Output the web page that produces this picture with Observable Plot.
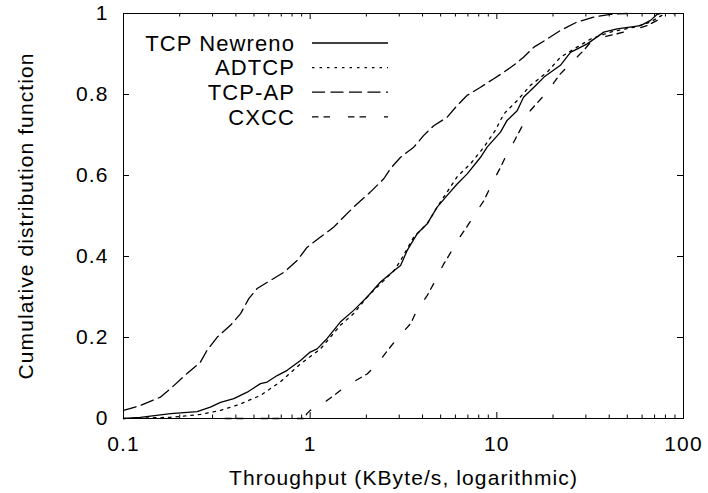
<!DOCTYPE html>
<html>
<head>
<meta charset="utf-8">
<script src="https://cdn.jsdelivr.net/npm/d3@7"></script>
<script src="https://cdn.jsdelivr.net/npm/@observablehq/plot@0.6"></script>
<style>
  html, body { margin: 0; padding: 0; background: #fff; }
</style>
</head>
<body>
<div id="chart"></div>
<script>
// ---- data ----
const seriesNames = ["TCP Newreno", "ADTCP", "TCP-AP", "CXCC"];

const newrenoX = [0.1, 0.123, 0.179, 0.248, 0.292, 0.331, 0.39, 0.46, 0.542, 0.588, 0.666, 0.753, 0.888, 1.0, 1.09, 1.23, 1.45, 1.71, 2.02, 2.38, 2.81, 3.05, 3.31, 3.74, 4.24, 4.79, 5.42, 6.13, 6.94, 8.18, 8.87, 10.46, 11.35, 12.85, 13.9, 15.8, 17.9, 21.9, 24.8, 30.5, 37.4, 44.1, 58.9, 66.6, 72.3, 75];
const newrenoY = [0, 0.003, 0.012, 0.017, 0.028, 0.04, 0.049, 0.065, 0.086, 0.09, 0.106, 0.119, 0.143, 0.164, 0.172, 0.197, 0.238, 0.267, 0.3, 0.337, 0.365, 0.378, 0.415, 0.456, 0.481, 0.522, 0.551, 0.579, 0.604, 0.645, 0.67, 0.707, 0.736, 0.76, 0.793, 0.818, 0.843, 0.872, 0.904, 0.925, 0.954, 0.962, 0.97, 0.983, 0.998, 1];

const adtcpX = [0.1, 0.179, 0.258, 0.331, 0.424, 0.542, 0.69, 0.888, 1.136, 1.45, 1.71, 2.02, 2.81, 3.05, 3.59, 4.24, 4.79, 5.2, 6.13, 7.23, 8.52, 9.8, 10.9, 12.85, 15.1, 18.6, 21.9, 26.9, 31.8, 40.6, 54.2, 66.6, 78.3, 80];
const adtcpY = [0, 0.003, 0.01, 0.02, 0.036, 0.057, 0.09, 0.135, 0.172, 0.23, 0.259, 0.3, 0.365, 0.39, 0.448, 0.481, 0.522, 0.547, 0.597, 0.629, 0.67, 0.711, 0.752, 0.785, 0.822, 0.855, 0.892, 0.917, 0.937, 0.954, 0.966, 0.979, 0.998, 1];

const tcpApX = [0.1, 0.123, 0.158, 0.179, 0.219, 0.258, 0.28, 0.318, 0.374, 0.424, 0.469, 0.52, 0.613, 0.723, 0.852, 0.964, 1.136, 1.334, 1.45, 1.71, 2.10, 2.48, 2.69, 3.05, 3.59, 4.06, 4.59, 5.42, 6.13, 6.94, 8.18, 9.63, 10.9, 12.3, 13.9, 15.8, 18.6, 21.9, 26.9, 33, 40.6, 50];
const tcpApY = [0.02, 0.032, 0.053, 0.074, 0.111, 0.139, 0.168, 0.201, 0.23, 0.259, 0.296, 0.321, 0.341, 0.361, 0.39, 0.423, 0.448, 0.472, 0.489, 0.522, 0.559, 0.592, 0.617, 0.645, 0.67, 0.699, 0.723, 0.744, 0.773, 0.798, 0.818, 0.839, 0.855, 0.872, 0.892, 0.917, 0.937, 0.958, 0.979, 0.991, 0.998, 1];

const cxccX = [0.35, 0.93, 0.96, 1.0, 1.18, 1.45, 1.64, 2.02, 2.29, 2.64, 2.92, 3.45, 3.66, 4.24, 4.59, 5.2, 5.53, 6.25, 6.79, 7.7, 8.52, 9.55, 10.46, 11.35, 12.3, 13.9, 15.1, 17.9, 19.4, 21.9, 24.8, 29.2, 31.8, 37.4, 44.1, 52, 63.8, 72.3, 85, 90];
const cxccY = [0, 0, 0.012, 0.02, 0.038, 0.069, 0.086, 0.11, 0.135, 0.172, 0.197, 0.234, 0.259, 0.304, 0.333, 0.382, 0.402, 0.444, 0.468, 0.507, 0.538, 0.585, 0.62, 0.654, 0.682, 0.728, 0.76, 0.798, 0.818, 0.851, 0.876, 0.909, 0.929, 0.942, 0.95, 0.958, 0.97, 0.983, 0.995, 1];

const xMajorTicks = [0.1, 1, 10, 100];
const xMinorTicks = [0.2, 0.3, 0.4, 0.5, 0.6, 0.7, 0.8, 0.9, 2, 3, 4, 5, 6, 7, 8, 9, 20, 30, 40, 50, 60, 70, 80, 90];
const yTicks = [0, 0.2, 0.4, 0.6, 0.8, 1];
const xTitle = "Throughput (KByte/s, logarithmic)";
const yTitle = "Cumulative distribution function";

// ---- build table ----
const xs = [newrenoX, adtcpX, tcpApX, cxccX];
const ys = [newrenoY, adtcpY, tcpApY, cxccY];
const rows = [];
seriesNames.forEach((name, i) => xs[i].forEach((x, j) => rows.push({series: name, x, y: ys[i][j]})));

const dashes = ["none", "2.5,5", "13,5.5", "6.5,5,6.5,18"];

const W = 708, H = 493;
const mL = 123, mR = 25, mT = 13, mB = 75;
const innerW = W - mL - mR, innerH = H - mT - mB;
const major = 6, minor = 3.5;

const lineMarks = seriesNames.map((name, i) =>
  Plot.line(rows.filter(d => d.series === name), {
    x: "x", y: "y", stroke: "black", strokeWidth: 1.3,
    strokeDasharray: dashes[i] === "none" ? undefined : dashes[i]
  })
);

const chart = Plot.plot({
  width: W, height: H,
  marginLeft: mL, marginRight: mR, marginTop: mT, marginBottom: mB,
  style: {fontFamily: "'Liberation Sans', Arial, sans-serif", fontSize: "21px", letterSpacing: "1.1px", color: "black", background: "white"},
  x: {type: "log", domain: [0.1, 100]},
  y: {domain: [0, 1]},
  marks: [
    // ticks (inward, mirrored)
    Plot.tickX(xMajorTicks, {x: d => d, insetTop: innerH - major, stroke: "black"}),
    Plot.tickX(xMajorTicks, {x: d => d, insetBottom: innerH - major, stroke: "black"}),
    Plot.tickX(xMinorTicks, {x: d => d, insetTop: innerH - minor, stroke: "black"}),
    Plot.tickX(xMinorTicks, {x: d => d, insetBottom: innerH - minor, stroke: "black"}),
    Plot.tickY(yTicks, {y: d => d, insetRight: innerW - major, stroke: "black"}),
    Plot.tickY(yTicks, {y: d => d, insetLeft: innerW - major, stroke: "black"}),
    Plot.axisX({ticks: xMajorTicks, tickSize: 0, tickPadding: 18, tickFormat: d => String(d), label: null}),
    Plot.axisY({ticks: yTicks, tickSize: 0, tickPadding: 15, tickFormat: d => String(d), label: null}),
    ...lineMarks,
    Plot.frame({stroke: "black", strokeWidth: 1}),
    Plot.text([xTitle], {text: d => d, frameAnchor: "bottom", dy: 66, lineAnchor: "bottom", fill: "black"}),
    Plot.text([yTitle], {text: d => d, frameAnchor: "left", dx: -91, rotate: -90, textAnchor: "middle", lineAnchor: "bottom", fill: "black"})
  ]
});

document.getElementById("chart").appendChild(chart);

// ---- legend (inside the frame, top-left) ----
const svg = d3.select(chart);
const lg = svg.append("g").attr("font-family", "'Liberation Sans', Arial, sans-serif").attr("font-size", 22);
const rowY0 = 43, rowStep = 24.6, textRight = 295, lineX1 = 312, lineX2 = 388;
seriesNames.forEach((name, i) => {
  const yy = rowY0 + i * rowStep;
  lg.append("text").attr("x", textRight).attr("y", yy).attr("dy", "0.35em")
    .attr("text-anchor", "end").attr("fill", "black").text(name);
  const ln = lg.append("line").attr("x1", lineX1).attr("x2", lineX2).attr("y1", yy).attr("y2", yy)
    .attr("stroke", "black").attr("stroke-width", 1.3);
  if (dashes[i] !== "none") ln.attr("stroke-dasharray", dashes[i]);
});
</script>
</body>
</html>
